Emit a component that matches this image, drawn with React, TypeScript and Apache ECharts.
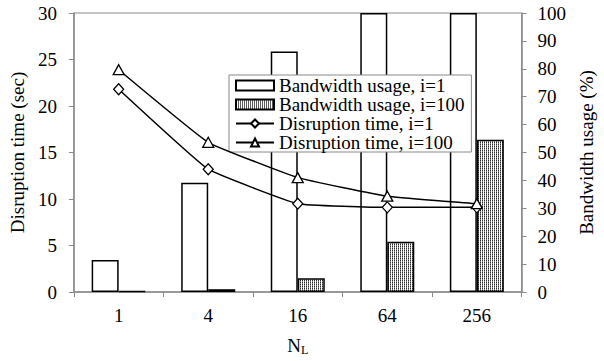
import React, { useEffect, useRef } from "react";
import * as echarts from "echarts";

// N_L values on the category axis
const categories = ["1", "4", "16", "64", "256"];
// Bandwidth usage (%) — right axis
const bandwidthI1 = [11.5, 39.2, 86.2, 100, 100];
const bandwidthI100 = [0.3, 1.0, 4.9, 18.0, 54.6];
// Disruption time (sec) — left axis
const disruptionI1 = [21.8, 13.2, 9.5, 9.1, 9.1];
const disruptionI100 = [23.9, 16.1, 12.3, 10.3, 9.5];

const FONT = "Liberation Serif";
const AXIS_GRAY = "#8a8a8a";

function makeStipple(): HTMLCanvasElement {
  const c = document.createElement("canvas");
  c.width = 2;
  c.height = 2;
  const ctx = c.getContext("2d")!;
  ctx.fillStyle = "#ffffff";
  ctx.fillRect(0, 0, 2, 2);
  ctx.fillStyle = "#2a2a2a";
  ctx.fillRect(0, 0, 1, 1);
  ctx.fillStyle = "#8a8a8a";
  ctx.fillRect(0, 1, 1, 1);
  return c;
}

export default function App() {
  const ref = useRef<HTMLDivElement>(null);

  useEffect(() => {
    if (!ref.current) return;
    const chart = echarts.init(ref.current, undefined, { renderer: "svg" });
    const stipple = {
      image: makeStipple(),
      repeat: "repeat",
      imageWidth: 2,
      imageHeight: 2,
    };
    const label = () => ({ color: "#000", fontFamily: FONT, fontSize: 19 });

    chart.setOption({
      animation: false,
      backgroundColor: "#fff",
      textStyle: { fontFamily: FONT, fontSize: 19, color: "#000" },
      grid: {
        left: 70,
        right: 63,
        top: 13,
        bottom: 68,
        show: true,
        borderColor: AXIS_GRAY,
        borderWidth: 1,
      },
      legend: {
        orient: "vertical",
        left: 229,
        top: 75,
        backgroundColor: "#fff",
        borderColor: AXIS_GRAY,
        borderWidth: 1,
        borderRadius: 0,
        padding: [1, 7, 0, 6],
        itemWidth: 38,
        itemHeight: 10,
        itemGap: 0,
        textStyle: { ...label(), lineHeight: 19 },
        data: [
          { name: "Bandwidth usage, i=1", icon: "rect" },
          { name: "Bandwidth usage, i=100", icon: "rect" },
          { name: "Disruption time, i=1" },
          { name: "Disruption time, i=100" },
        ],
      },
      xAxis: {
        type: "category",
        data: categories,
        boundaryGap: true,
        name: "N{sub|L}",
        nameLocation: "middle",
        nameGap: 42,
        nameTextStyle: {
          ...label(),
          rich: {
            sub: { fontFamily: FONT, fontSize: 12, color: "#000", verticalAlign: "bottom", padding: [10, 0, 0, 0] },
          },
        },
        axisLine: { lineStyle: { color: AXIS_GRAY, width: 1.5 } },
        axisTick: { show: true, alignWithLabel: false, length: 5, lineStyle: { color: AXIS_GRAY } },
        axisLabel: { ...label(), margin: 14 },
        splitLine: { show: false },
      },
      yAxis: [
        {
          type: "value",
          min: 0,
          max: 30,
          interval: 5,
          name: "Disruption time (sec)",
          nameLocation: "middle",
          nameRotate: 90,
          nameGap: 43,
          nameTextStyle: label(),
          axisLine: { show: true, lineStyle: { color: AXIS_GRAY, width: 1.5 } },
          axisTick: { show: true, length: 5, lineStyle: { color: AXIS_GRAY } },
          axisLabel: { ...label(), margin: 17 },
          splitLine: { show: false },
        },
        {
          type: "value",
          min: 0,
          max: 100,
          interval: 10,
          position: "right",
          name: "Bandwidth usage (%)",
          nameLocation: "middle",
          nameRotate: 90,
          nameGap: 46,
          nameTextStyle: label(),
          axisLine: { show: true, lineStyle: { color: AXIS_GRAY, width: 1.5 } },
          axisTick: { show: true, length: 5, lineStyle: { color: AXIS_GRAY } },
          axisLabel: { ...label(), margin: 16 },
          splitLine: { show: false },
        },
      ],
      series: [
        {
          name: "Bandwidth usage, i=1",
          type: "bar",
          yAxisIndex: 1,
          data: bandwidthI1,
          barWidth: 27,
          barGap: "0%",
          itemStyle: { color: "#fff", borderColor: "#000", borderWidth: 1.5 },
          z: 2,
        },
        {
          name: "Bandwidth usage, i=100",
          type: "bar",
          yAxisIndex: 1,
          data: bandwidthI100,
          barWidth: 27,
          barGap: "0%",
          itemStyle: { color: stipple, borderColor: "#000", borderWidth: 1.5 },
          z: 2,
        },
        {
          name: "Disruption time, i=1",
          type: "line",
          yAxisIndex: 0,
          data: disruptionI1,
          smooth: 0.1,
          symbol: "diamond",
          symbolSize: [10, 11],
          lineStyle: { color: "#000", width: 1.5 },
          itemStyle: { color: "#fff", borderColor: "#000", borderWidth: 1.3 },
          z: 4,
        },
        {
          name: "Disruption time, i=100",
          type: "line",
          yAxisIndex: 0,
          data: disruptionI100,
          smooth: 0.1,
          symbol: "triangle",
          symbolSize: [11, 10],
          lineStyle: { color: "#000", width: 1.5 },
          itemStyle: { color: "#fff", borderColor: "#000", borderWidth: 1.3 },
          z: 4,
        },
      ],
    });

    return () => chart.dispose();
  }, []);

  return (
    <div
      ref={ref}
      style={{ width: 604, height: 361, position: "absolute", left: 0, top: 0 }}
    />
  );
}
